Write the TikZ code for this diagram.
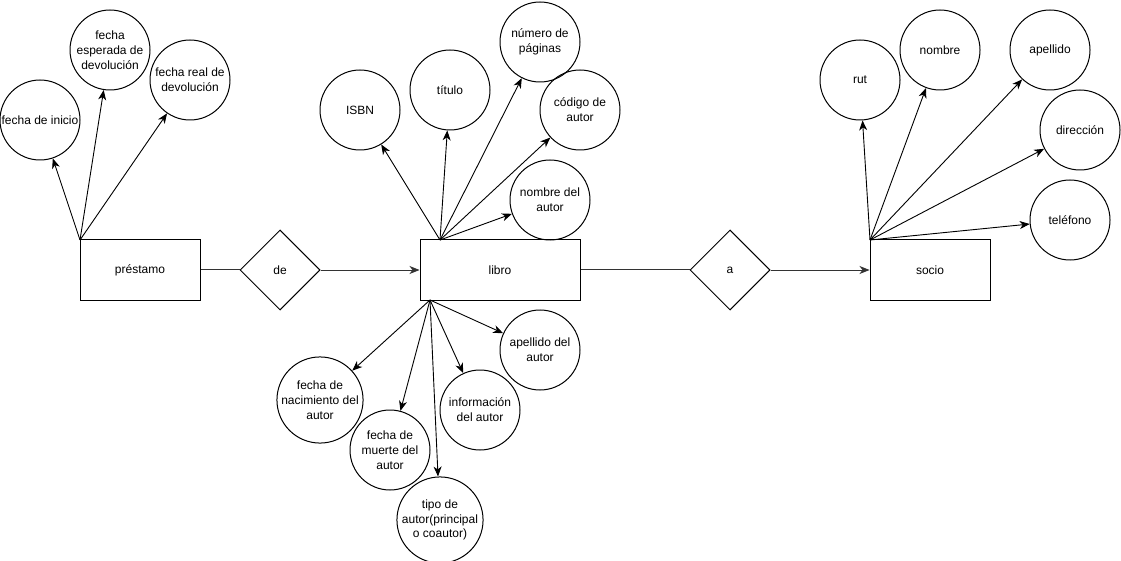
\documentclass[tikz,border=0pt]{standalone}
\usepackage{fontspec}
\setmainfont{Liberation Sans}
\usetikzlibrary{shapes.geometric,arrows.meta}
\begin{document}
\begin{tikzpicture}[x=1pt,y=-1pt,
  every node/.style={font=\fontsize{12pt}{14.8pt}\selectfont},
  attr/.style={circle,draw,line width=1pt,minimum size=80pt,inner sep=0pt,align=center},
  ent/.style={rectangle,draw,line width=1pt,minimum width=120pt,minimum height=60pt,inner sep=0pt},
  entwide/.style={ent,minimum width=160pt},
  rel/.style={diamond,draw,line width=1pt,minimum width=80pt,minimum height=80pt,inner sep=0pt},
  conn/.style={line width=1pt,draw=black!80},
  arr/.style={line width=0.9pt,-{Stealth[length=10pt,width=8pt,inset=3pt]}}]
\useasboundingbox (0,0) rectangle (1121,561);
% entities
\node[ent] (prestamo) at (140,270) {préstamo};
\node[entwide] (libro) at (500,270) {libro};
\node[ent] (socio) at (930,270) {socio};
% relations
\node[rel] (de) at (280,270) {de};
\node[rel] (a) at (730,270) {a};
% connectors
\draw[conn] (prestamo) -- (de);
\draw[conn,arr] (de) -- (libro);
\draw[conn] (libro) -- (a);
\draw[conn,arr] (a) -- (socio);
% prestamo attributes
\coordinate (pO) at (80,240);
\node[attr] (finicio) at (40,120) {fecha de inicio};
\node[attr] (fesp) at (110,50) {fecha\\esperada de\\devolución};
\node[attr] (freal) at (190,80) {fecha real de\\devolución};
\draw[arr] (pO) -- (finicio);
\draw[arr] (pO) -- (fesp);
\draw[arr] (pO) -- (freal);
% libro top attributes
\coordinate (lT) at (440,240);
\node[attr] (isbn) at (360,110) {ISBN};
\node[attr] (titulo) at (450,90) {título};
\node[attr] (npag) at (540,42) {número de\\páginas};
\node[attr] (cod) at (580,110) {código de\\autor};
\node[attr] (nom) at (550,200) {nombre del\\autor};
\draw[arr] (lT) -- (isbn);
\draw[arr] (lT) -- (titulo);
\draw[arr] (lT) -- (npag);
\draw[arr] (lT) -- (cod);
\draw[arr] (lT) -- (nom);
% libro bottom attributes
\coordinate (lB) at (430,300);
\node[attr] (apel) at (540,350) {apellido del\\autor};
\node[attr] (fnac) at (320,400) {fecha de\\nacimiento del\\autor};
\node[attr] (fmue) at (390,450) {fecha de\\muerte del\\autor};
\node[attr] (info) at (480,410) {información\\del autor};
\node[attr] (tipo) at (440,520) {tipo de\\autor(principal\\o coautor)};
\draw[arr] (lB) -- (apel);
\draw[arr] (lB) -- (fnac);
\draw[arr] (lB) -- (fmue);
\draw[arr] (lB) -- (info);
\draw[arr] (lB) -- (tipo);
% socio attributes
\coordinate (sO) at (870,240);
\node[attr] (rut) at (860,80) {rut};
\node[attr] (snom) at (940,50) {nombre};
\node[attr] (sape) at (1050,50) {apellido};
\node[attr] (dir) at (1080,130) {dirección};
\node[attr] (tel) at (1070,220) {teléfono};
\draw[arr] (sO) -- (rut);
\draw[arr] (sO) -- (snom);
\draw[arr] (sO) -- (sape);
\draw[arr] (sO) -- (dir);
\draw[arr] (sO) -- (tel);
\end{tikzpicture}
\end{document}
